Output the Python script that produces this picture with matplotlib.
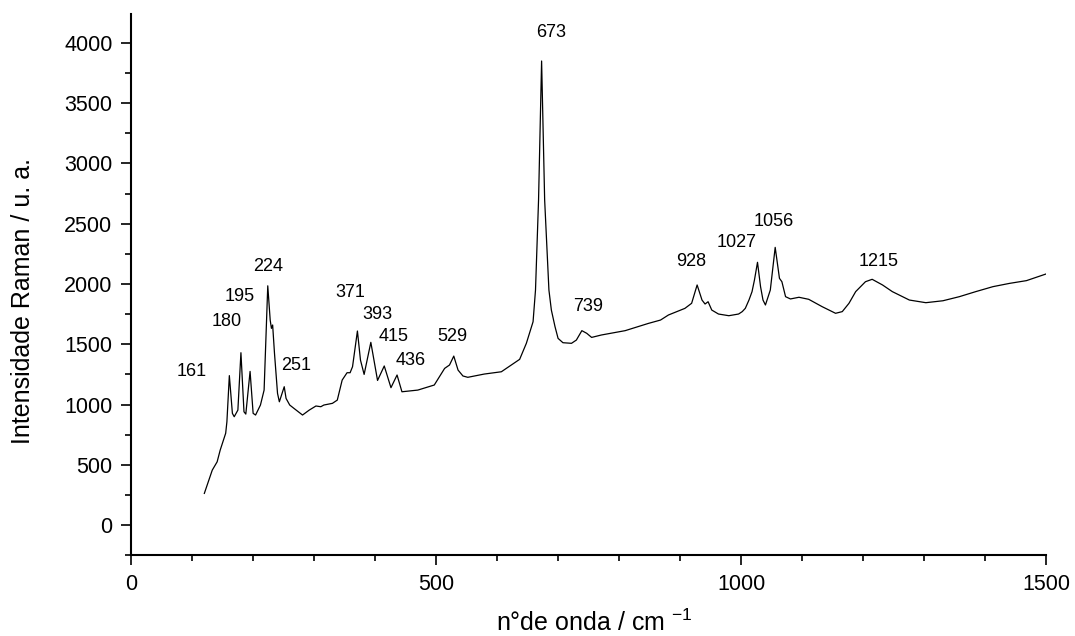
import numpy as np
import matplotlib.pyplot as plt
from matplotlib.ticker import MultipleLocator

plt.rcParams.update({'font.family': ['Liberation Sans', 'DejaVu Sans'],
                     'mathtext.default': 'regular'})

# espectro Raman (n de onda / cm-1, intensidade / u. a.)
wavenumber = [120, 133, 141, 146, 155, 157, 161, 166, 169, 175, 180, 185, 188, 195, 200,
              204, 212, 218, 224, 228, 230, 232, 235, 240, 243, 251, 254, 260, 267, 281,
              292, 303, 311, 316, 330, 338, 346, 354, 359, 363, 371, 376, 382, 393, 404,
              415, 426, 436, 444, 470, 497, 514, 522, 529, 536, 544, 552, 579, 607, 637,
              648, 659, 663, 668, 673, 678, 685, 689, 695, 700, 708, 722, 730, 739, 747,
              755, 771, 810, 848, 868, 881, 908, 919, 928, 936, 941, 946, 952, 963, 980,
              996, 1002, 1007, 1013, 1018, 1022, 1027, 1032, 1036, 1040, 1048, 1056, 1063,
              1067, 1073, 1081, 1095, 1111, 1133, 1155, 1166, 1177, 1188, 1204, 1215, 1232,
              1248, 1276, 1303, 1331, 1358, 1385, 1413, 1440, 1468, 1500]
intensity = [263, 456, 525, 622, 762, 857, 1240, 927, 899, 954, 1430, 940, 921, 1275, 927,
             913, 996, 1120, 1985, 1700, 1632, 1660, 1427, 1093, 1023, 1148, 1051, 996, 968, 913,
             954, 988, 982, 996, 1010, 1037, 1203, 1264, 1264, 1314, 1610, 1369, 1250, 1516, 1200,
             1320, 1140, 1245, 1106, 1120, 1162, 1300, 1328, 1402, 1286, 1237, 1226, 1253, 1272, 1375,
             1508, 1687, 1950, 2697, 3850, 2697, 1950, 1784, 1646, 1549, 1513, 1508, 1535, 1613, 1591,
             1557, 1577, 1613, 1673, 1701, 1743, 1798, 1840, 1992, 1867, 1834, 1853, 1784, 1751, 1737,
             1751, 1771, 1798, 1867, 1936, 2033, 2180, 1978, 1867, 1826, 1950, 2304, 2047,
             2019, 1895, 1876, 1890, 1873, 1812, 1757, 1771, 1840, 1937, 2019, 2039, 1992,
             1937, 1867, 1845, 1861, 1895, 1937, 1978, 2005, 2028, 2083]

# rotulos dos picos e posicao do texto
peak_labels = ['161', '180', '195', '224', '251', '371', '393', '415', '436', '529',
               '673', '739', '928', '1027', '1056', '1215']
label_x = [100, 157, 178, 224, 271, 360, 403, 430, 459, 527,
           688, 750, 918, 992, 1053, 1226]
label_y = [1272, 1687, 1895, 2143, 1328, 1928, 1751, 1568, 1369, 1568,
           4088, 1817, 2185, 2343, 2517, 2185]


def main():
    fig = plt.figure(figsize=(10.75, 6.36), dpi=100)
    ax = fig.add_axes([0.122, 0.127, 0.851, 0.851])

    ax.plot(wavenumber, intensity, color='black', lw=0.9)

    for txt, x, y in zip(peak_labels, label_x, label_y):
        ax.text(x, y, txt, ha='center', va='center', fontsize=13)

    ax.set_xlim(0, 1500)
    ax.set_ylim(-250, 4240)
    ax.xaxis.set_major_locator(MultipleLocator(500))
    ax.xaxis.set_minor_locator(MultipleLocator(100))
    ax.yaxis.set_major_locator(MultipleLocator(500))
    ax.yaxis.set_minor_locator(MultipleLocator(250))

    for side in ['top', 'right']:
        ax.spines[side].set_visible(False)
    for side in ['left', 'bottom']:
        ax.spines[side].set_linewidth(1.5)

    ax.tick_params(which='major', direction='out', length=7.5, width=1.2,
                   labelsize=15.5, pad=6)
    ax.tick_params(which='minor', direction='out', length=4.5, width=1.2)

    ax.set_xlabel('n°de onda / cm $^{-1}$', fontsize=18)
    ax.set_ylabel('Intensidade Raman / u. a.', fontsize=18)
    ax.xaxis.set_label_coords(0.506, -0.1)
    ax.yaxis.set_label_coords(-0.105, 0.47)

    fig.savefig('out.png', dpi=100)


if __name__ == '__main__':
    main()
